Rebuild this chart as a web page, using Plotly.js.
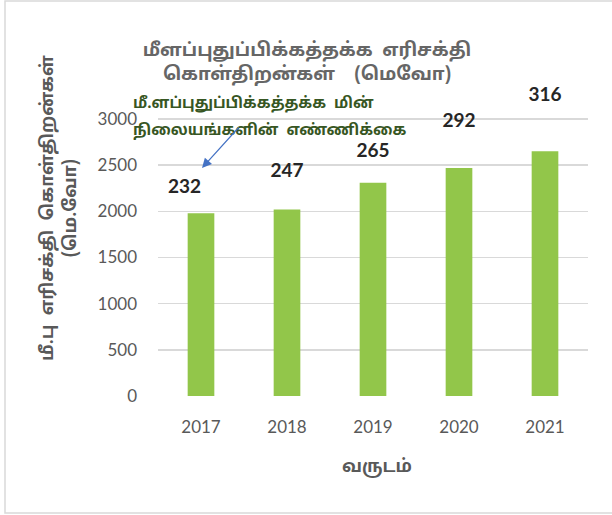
<!DOCTYPE html>
<html>
<head>
<meta charset="utf-8">
<script src="https://cdn.plot.ly/plotly-3.0.1.min.js"></script>
<style>html,body{margin:0;padding:0;background:#fff;}#chart{width:612px;height:515px;}</style>
</head>
<body>
<div id="chart"></div>
<script>
const years = ['2017', '2018', '2019', '2020', '2021'];
const capacityMW = [1980, 2020, 2310, 2470, 2650];
const stationCounts = [232, 247, 265, 292, 316];
const yTicks = [0, 500, 1000, 1500, 2000, 2500, 3000];

const titleText = 'மீளப்புதுப்பிக்கத்தக்க  எரிசக்தி<br>கொள்திறன்கள்    (மெவோ)';
const yTitleText = 'மீ.பு  எரிசக்தி  கொள்திறன்கள்<br>(மெ.வோ)';
const xTitleText = 'வருடம்';
const noteLine1 = 'மீ.ளப்புதுப்பிக்கத்தக்க  மின்';
const noteLine2 = 'நிலையங்களின்  எண்ணிக்கை';

const FONT = 'Lato, "Noto Sans", sans-serif';
const TFONT = '"Noto Sans Tamil", "Lohit Tamil", "Noto Sans", Lato, sans-serif';
const GRAY = '#595959';

const L = 158, R = 24, T = 85, B = 119;
const W = 612, H = 515;
const pw = W - L - R, ph = H - T - B;
const px = x => (x - L) / pw;
const py = y => (H - B - y) / ph;

const traces = [
  {
    type: 'bar', x: years, y: capacityMW,
    marker: {color: '#92C64A'},
    width: 0.31,
    hoverinfo: 'skip'
  },
  {
    type: 'scatter', mode: 'text', x: years, y: stationCounts,
    yaxis: 'y2',
    text: stationCounts.map(String),
    textposition: ['middle left', 'middle center', 'middle center', 'middle center', 'middle center'],
    textfont: {family: FONT, size: 19, color: '#262626', weight: 'bold'},
    cliponaxis: false,
    hoverinfo: 'skip'
  }
];

const layout = {
  width: W, height: H,
  margin: {l: L, r: R, t: T, b: B},
  paper_bgcolor: '#ffffff', plot_bgcolor: '#ffffff',
  showlegend: false,
  font: {family: FONT, color: GRAY},
  title: {
    text: titleText,
    font: {family: TFONT, size: 18.5, color: '#666666', weight: 'bold'},
    xref: 'container', yref: 'container',
    x: 307 / W, y: 1 - 56 / H, xanchor: 'center', yanchor: 'middle'
  },
  xaxis: {
    type: 'category',
    showgrid: false, zeroline: false, showline: false,
    ticks: '', tickfont: {family: FONT, size: 17, color: GRAY},
    ticklabelstandoff: 19
  },
  yaxis: {
    range: [0, 3368],
    tickvals: yTicks,
    ticktext: yTicks.map(String),
    showgrid: true, gridcolor: '#d9d9d9', gridwidth: 1.5,
    zeroline: false, showline: false, ticks: '',
    tickfont: {family: FONT, size: 17, color: GRAY},
    ticklabelstandoff: 20
  },
  yaxis2: {
    overlaying: 'y', range: [44.8, 325.7], visible: false
  },
  annotations: [
    {
      text: yTitleText, textangle: -90,
      xref: 'paper', yref: 'paper', x: px(60), y: py(208),
      xanchor: 'center', yanchor: 'middle', showarrow: false,
      font: {family: TFONT, size: 17.8, color: GRAY, weight: 'bold'}
    },
    {
      text: xTitleText,
      xref: 'paper', yref: 'paper', x: px(377), y: py(467),
      xanchor: 'center', yanchor: 'middle', showarrow: false,
      font: {family: TFONT, size: 17.5, color: GRAY, weight: 'bold'}
    },
    {
      text: noteLine1,
      xref: 'paper', yref: 'paper', x: px(131), y: py(104),
      xanchor: 'left', yanchor: 'middle', showarrow: false,
      font: {family: TFONT, size: 15.2, color: '#375623', weight: 'bold'}
    },
    {
      text: noteLine2,
      xref: 'paper', yref: 'paper', x: px(131), y: py(131),
      xanchor: 'left', yanchor: 'middle', showarrow: false,
      font: {family: TFONT, size: 15.2, color: '#375623', weight: 'bold'}
    },
    {
      text: '',
      xref: 'paper', yref: 'paper', x: px(202), y: py(168),
      axref: 'pixel', ayref: 'pixel', ax: 38, ay: -42,
      showarrow: true, arrowhead: 2, arrowsize: 1.6, arrowwidth: 1.2,
      arrowcolor: '#4472C4'
    }
  ],
  shapes: [
    {
      type: 'rect', xref: 'paper', yref: 'paper',
      x0: px(5), x1: px(640), y0: py(513), y1: py(1),
      line: {color: '#d9d9d9', width: 1.5}, fillcolor: 'rgba(0,0,0,0)', layer: 'below'
    }
  ]
};

Plotly.newPlot('chart', traces, layout, {staticPlot: true, displayModeBar: false});
</script>
</body>
</html>
